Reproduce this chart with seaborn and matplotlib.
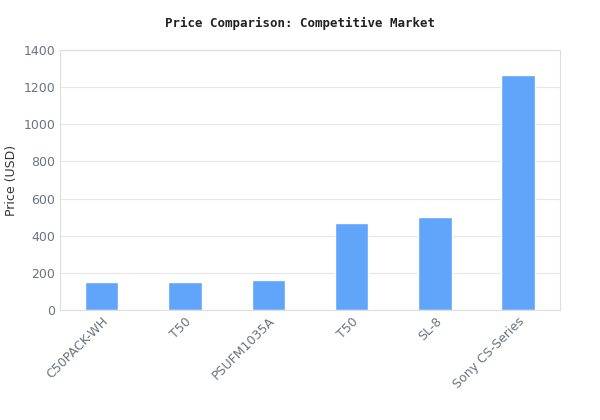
import matplotlib
matplotlib.use("Agg")
import matplotlib.pyplot as plt
import seaborn as sns
import pandas as pd

categories = ["C50PACK-WH", "T50", "PSUFM1035A", "T50", "SL-8", "Sony CS-Series"]
prices = [152, 152, 163, 469, 501, 1265]

sns.set_theme(style="white")
plt.rcParams['font.family'] = ['DejaVu Sans']
df = pd.DataFrame({"pos": [str(i) for i in range(len(categories))], "price": prices})

fig = plt.figure(figsize=(6, 4.2), dpi=100)
ax = fig.add_axes([0.1, 0.262, 0.833, 0.619])
sns.barplot(data=df, x="pos", y="price", color="#60a5fa", saturation=1, width=0.4, ax=ax)
ax.set_xticks(range(len(categories)))
ax.set_xticklabels(categories, rotation=45, ha="right", rotation_mode="anchor", fontsize=9, color="#6b7280")
ax.set_ylim(0, 1400)
ax.set_yticks(range(0, 1401, 200))
ax.tick_params(axis="y", labelsize=9, colors="#6b7280", length=0)
ax.tick_params(axis="x", length=0)
ax.yaxis.grid(True, color="#e5e7eb", linewidth=0.8)
ax.set_axisbelow(True)
for s in ax.spines.values():
    s.set_color("#dddddd")
    s.set_linewidth(0.8)
ax.set_xlabel("")
ax.set_ylabel("Price (USD)", fontsize=9, color="#333333")
fig.suptitle("Price Comparison: Competitive Market", y=0.96, fontsize=9, fontweight="bold",
             family="DejaVu Sans Mono", color="#222222")
fig.savefig("out.png", dpi=100)
